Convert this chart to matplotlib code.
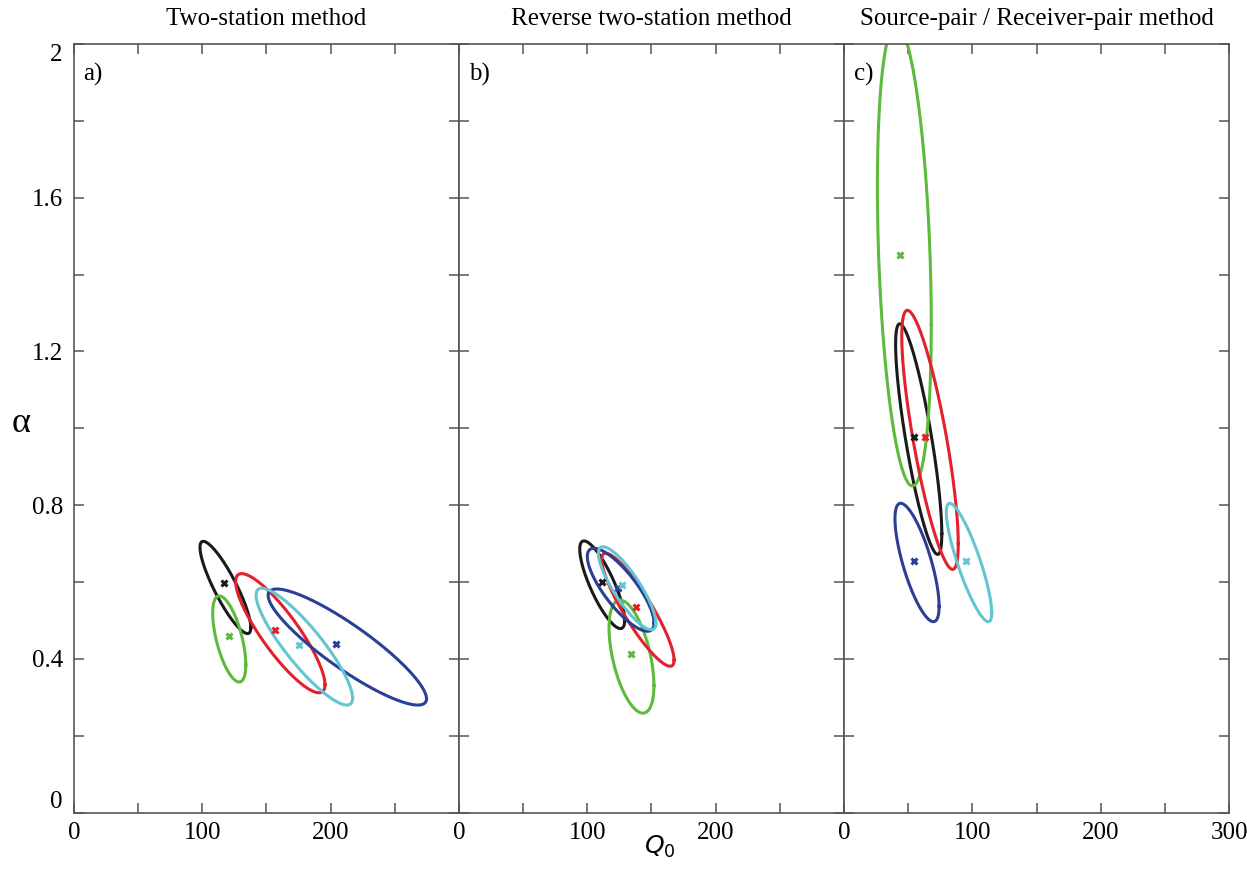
import numpy as np
import matplotlib
matplotlib.use('Agg')
import matplotlib.pyplot as plt

# colours of the five data sets (same order in every panel)
colors = ['#1a1a1a', '#5cba3c', '#e3202b', '#2c3f96', '#62c6d0']

titles = ['Two-station method', 'Reverse two-station method',
          'Source-pair / Receiver-pair method']
panel_labels = ['a)', 'b)', 'c)']

# best-fit points (Q0, alpha)
q0_a = [117.0, 120.5, 157.0, 204.2, 175.6]
al_a = [0.598, 0.460, 0.475, 0.438, 0.436]
q0_b = [111.7, 134.3, 137.7, 124.2, 126.8]
al_b = [0.601, 0.413, 0.536, 0.584, 0.592]
q0_c = [54.6, 43.4, 63.1, 54.6, 95.3]
al_c = [0.978, 1.450, 0.978, 0.656, 0.656]

# confidence ellipses: centre, half-range in Q0, half-range in alpha, correlation
ecq_a = [118.0, 121.0, 160.8, 213.0, 179.5]
eca_a = [0.586, 0.452, 0.467, 0.431, 0.432]
sq_a = [19.8, 12.9, 34.8, 61.7, 37.6]
sa_a = [0.120, 0.112, 0.155, 0.151, 0.152]
rho_a = [-0.87, -0.60, -0.865, -0.89, -0.88]

ecq_b = [111.6, 134.4, 139.4, 126.0, 131.0]
eca_b = [0.593, 0.406, 0.528, 0.580, 0.584]
sq_b = [17.5, 17.5, 28.2, 26.0, 22.4]
sa_b = [0.114, 0.147, 0.147, 0.108, 0.108]
rho_b = [-0.81, -0.51, -0.89, -0.80, -0.84]

ecq_c = [58.2, 47.0, 67.0, 56.9, 97.4]
eca_c = [0.972, 1.450, 0.970, 0.651, 0.651]
sq_c = [18.0, 21.0, 22.0, 17.2, 17.7]
sa_c = [0.300, 0.600, 0.337, 0.154, 0.154]
rho_c = [-0.82, -0.30, -0.80, -0.74, -0.85]

panels = [
    (q0_a, al_a, ecq_a, eca_a, sq_a, sa_a, rho_a),
    (q0_b, al_b, ecq_b, eca_b, sq_b, sa_b, rho_b),
    (q0_c, al_c, ecq_c, eca_c, sq_c, sa_c, rho_c),
]

serif = 'Liberation Serif'
spine_col = '#555555'

fig = plt.figure(figsize=(12.47, 8.69), dpi=100)
gs = fig.add_gridspec(1, 3, left=0.0593, right=0.9856, bottom=0.0648,
                      top=0.9494, wspace=0)
t = np.linspace(0, 2 * np.pi, 400)

for i, (q0, al, ecq, eca, sq, sa, rho) in enumerate(panels):
    ax = fig.add_subplot(gs[0, i])
    for k in range(len(colors)):
        x = ecq[k] + sq[k] * np.cos(t)
        y = eca[k] + sa[k] * (rho[k] * np.cos(t) + np.sqrt(1 - rho[k] ** 2) * np.sin(t))
        ax.plot(x, y, color=colors[k], lw=2.2)
    for k in range(len(colors)):
        ax.plot(q0[k], al[k], 'x', color=colors[k], ms=4.5, mew=2.2)

    ax.set_xlim(0, 300)
    ax.set_ylim(0, 2)
    ax.set_xticks(np.arange(0, 301, 50))
    xl = ['0', '', '100', '', '200', '', '300' if i == 2 else '']
    ax.set_xticklabels(xl, fontfamily=serif, fontsize=18)
    ax.set_yticks(np.arange(0, 2.01, 0.2))
    if i == 0:
        yl = ['0', '', '0.4', '', '0.8', '', '1.2', '', '1.6', '', '2']
        ax.set_yticklabels(yl, fontfamily=serif, fontsize=18)
        tl = ax.get_yticklabels()
        tl[0].set_va('bottom')
        tl[-1].set_va('top')
    else:
        ax.set_yticklabels([])
    ax.tick_params(direction='in', length=7, width=1.1, color=spine_col,
                   top=True, right=True)
    ax.tick_params(axis='x', pad=7)
    ax.tick_params(axis='y', pad=8)
    for s in ax.spines.values():
        s.set_color(spine_col)
        s.set_linewidth(1.2)

    ax.set_title(titles[i], fontfamily=serif, fontsize=18, pad=14)
    ax.text(0.025, 0.975, panel_labels[i], transform=ax.transAxes,
            fontfamily=serif, fontsize=18, va='top', ha='left')

fig.text(0.017, 0.513, 'α', fontfamily=serif, fontsize=26,
         ha='center', va='center')
fig.text(0.529, 0.025, r'$Q_0$', fontsize=18, ha='center', va='center')

plt.savefig('out.png', dpi=100, facecolor='white')
